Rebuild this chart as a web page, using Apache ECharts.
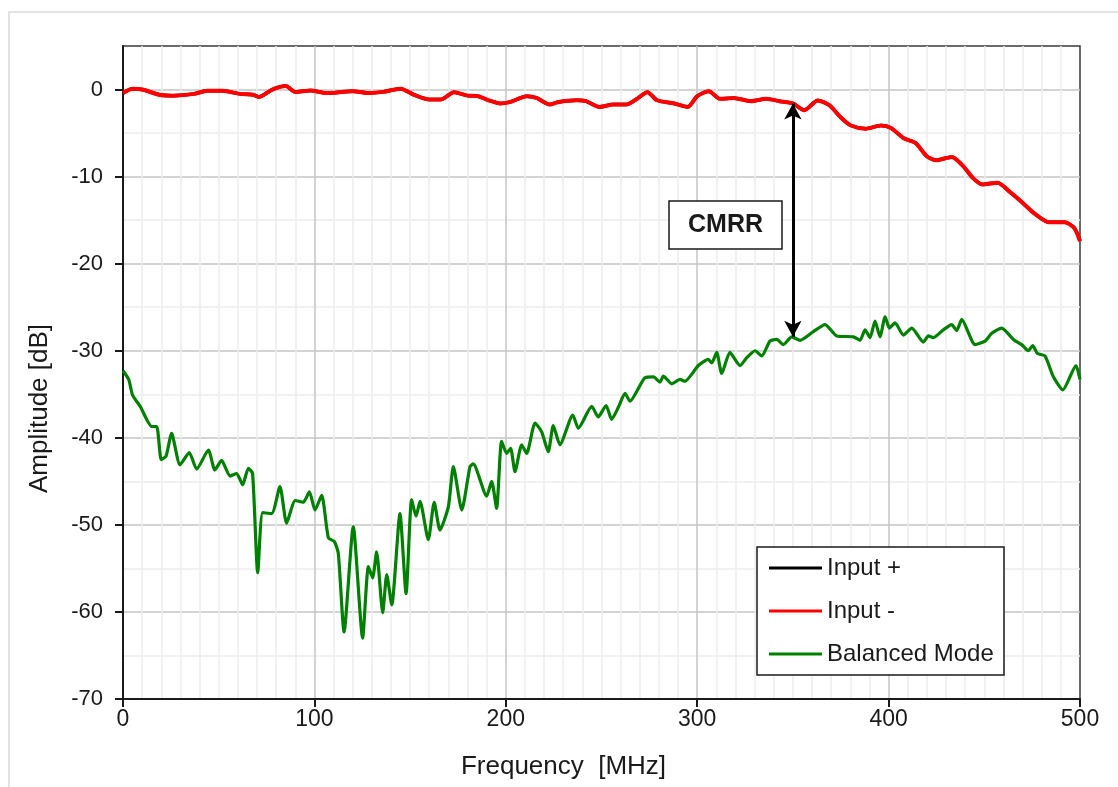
<!DOCTYPE html>
<html>
<head>
<meta charset="utf-8">
<title>Balanced mode response</title>
<script src="https://cdn.jsdelivr.net/npm/echarts@6/dist/echarts.min.js"></script>
<style>
  html, body { margin: 0; padding: 0; background: #ffffff; }
  #chart { width: 1118px; height: 787px; }
</style>
</head>
<body>
<div id="chart"></div>
<script>
// Frequency sweep of the single-ended inputs (MHz) and their level (dB)
const freqInput = [0, 5, 10, 19, 26, 37, 44, 52, 61, 68, 71, 78, 85, 90, 98, 106, 120, 129, 136, 145,
  152, 160, 166, 173, 180, 185, 192, 197, 202, 211, 216, 223, 227, 237, 242, 249, 256, 263, 268, 274,
  279, 288, 295, 300, 306, 312, 319, 328, 336, 343, 350, 356, 363, 369, 375, 380, 388, 396, 401, 408,
  414, 420, 425, 433, 439, 444, 449, 457, 463, 470, 476, 484, 492, 497, 500];
const inputMinus = [-0.4, 0.1, 0.0, -0.6, -0.7, -0.5, -0.15, -0.15, -0.5, -0.6, -0.85, 0.0, 0.4, -0.27, -0.1, -0.4, -0.2, -0.4, -0.27, 0.1,
  -0.6, -1.15, -1.15, -0.3, -0.7, -0.75, -1.3, -1.6, -1.45, -0.77, -0.96, -1.72, -1.45, -1.23, -1.34, -2.0, -1.72, -1.72, -1.15, -0.3,
  -1.23, -1.6, -2.0, -0.77, -0.19, -1.07, -0.96, -1.34, -1.07, -1.34, -1.6, -2.37, -1.25, -1.8, -3.2, -4.1, -4.5, -4.14, -4.4, -5.6,
  -6.13, -7.66, -8.12, -7.74, -8.8, -10.15, -10.9, -10.7, -11.7, -13.0, -14.2, -15.25, -15.25, -15.9, -17.4];
// Input + follows Input - over the whole band (the two traces overlap)
const inputPlus = inputMinus;

// Balanced (differential) mode response
const freqBalanced = [0, 3, 5, 9, 15, 17.6, 20, 22.5, 25.4, 29.8, 34.6, 38.5, 44.6, 48, 51.5, 56, 59.4, 62.5, 65.5, 67.7,
  70.4, 73, 77.7, 82, 85.5, 90, 94.2, 97.4, 100.3, 103.8, 107.3, 110.4, 112.5, 115.5, 120.3, 125.2, 128.2, 130.4, 132.5, 135.7,
  137.8, 140.4, 144.7, 147.9, 150.8, 153.1, 155.2, 159.5, 162.6, 165.6, 170, 172.6, 177, 181.3, 183, 190, 192.6, 195.2, 197.8, 200.4,
  202.5, 204.8, 208.3, 210.9, 215.3, 218.7, 222.2, 224.8, 228.3, 235, 237.9, 244.9, 248.3, 252.4, 255.3, 258.8, 262.3, 264.9, 272.7, 277.1,
  280.6, 282.3, 286.7, 291, 293.6, 300.6, 305.8, 307.6, 310.2, 312.8, 317.1, 322.4, 325.9, 330.2, 333.7, 338, 341.5, 345, 349.4, 353.7,
  360.7, 366.8, 372.9, 381.6, 385.1, 387.7, 390.3, 392.9, 395.5, 398.2, 400.4, 403.4, 407.7, 412.1, 418.2, 420.8, 423.4, 428.6, 433, 435.6,
  438.2, 445.2, 450.4, 453.9, 459.1, 465.2, 469.5, 473, 475.3, 477.7, 481.7, 486.1, 491, 497.9, 500];
const balancedMode = [-32.3, -33.3, -35.1, -36.4, -38.7, -38.7, -42.5, -42.1, -39.5, -43.1, -41.7, -43.6, -41.4, -43.7, -42.6, -44.4, -44.1, -45.4, -43.5, -44.1,
  -55.5, -48.6, -48.7, -45.6, -49.8, -47.2, -47.4, -46.2, -48.3, -46.6, -51.5, -51.9, -53.3, -62.3, -50.2, -63.0, -54.8, -56.1, -53.1, -60.1,
  -55.7, -59.2, -48.7, -57.9, -47.1, -49.0, -47.3, -51.7, -47.4, -50.6, -47.9, -43.3, -48.3, -43.3, -43.0, -46.7, -45.0, -48.1, -40.4, -41.8,
  -41.2, -43.9, -40.8, -41.8, -38.3, -39.3, -41.6, -38.6, -40.8, -37.4, -38.9, -36.4, -37.6, -36.3, -37.9, -36.5, -34.9, -35.8, -33.1, -33.0,
  -33.6, -32.9, -33.8, -33.3, -33.5, -31.7, -31.0, -31.4, -30.2, -32.6, -30.2, -31.7, -30.8, -30.0, -30.6, -28.9, -28.7, -29.3, -28.4, -28.8,
  -27.8, -27.0, -28.3, -28.4, -28.8, -27.6, -28.5, -26.6, -28.4, -26.1, -27.4, -26.8, -28.2, -27.4, -29.0, -28.3, -28.5, -27.6, -27.0, -27.7,
  -26.4, -29.3, -28.9, -28.0, -27.4, -28.7, -29.3, -30.0, -29.4, -30.3, -30.6, -33.0, -34.5, -31.7, -33.3];

const xTicks = [0, 100, 200, 300, 400, 500];
const yTicks = [-70, -60, -50, -40, -30, -20, -10, 0];
const seriesNames = ['Input +', 'Input -', 'Balanced Mode'];
const cmrrFreq = 350;
const cmrrLabel = 'CMRR';

function zip(xs, ys) { return xs.map((x, i) => [x, ys[i]]); }
function nearest(xs, ys, f) {
  let best = 0;
  xs.forEach((x, i) => { if (Math.abs(x - f) < Math.abs(xs[best] - f)) best = i; });
  return [xs[best], ys[best]];
}
const cmrrTop = nearest(freqInput, inputMinus, cmrrFreq);
const cmrrBottom = nearest(freqBalanced, balancedMode, cmrrFreq);

const FONT = "'Liberation Sans', Arial, sans-serif";
const TXT = '#1a1a1a';

const chart = echarts.init(document.getElementById('chart'), null, { renderer: 'canvas' });

chart.setOption({
  animation: false,
  backgroundColor: '#ffffff',
  textStyle: { fontFamily: FONT },
  grid: {
    left: 123, right: 38, top: 46, bottom: 88,
    show: true, borderColor: '#3a3a3a', borderWidth: 1.5, backgroundColor: 'transparent'
  },
  xAxis: {
    type: 'value', min: 0, max: 500, interval: 100,
    name: 'Frequency  [MHz]', nameLocation: 'middle', nameGap: 55,
    nameTextStyle: { fontSize: 26, color: TXT, fontFamily: FONT, padding: [0, 76, 0, 0] },
    axisLine: { show: true, onZero: false, lineStyle: { color: '#1a1a1a', width: 2 } },
    axisTick: { show: true, inside: false, length: 8, lineStyle: { color: '#1a1a1a', width: 2 }, customValues: xTicks },
    axisLabel: { fontSize: 23, color: TXT, margin: 9, fontFamily: FONT, customValues: xTicks },
    splitLine: { show: true, showMinLine: false, showMaxLine: false, lineStyle: { color: '#c4c4c4', width: 1.5 } },
    minorTick: { show: false, splitNumber: 10 },
    minorSplitLine: { show: true, lineStyle: { color: '#ededed', width: 1.5 } }
  },
  yAxis: [
    {
      type: 'value', min: -70, max: 5, interval: 10,
      name: 'Amplitude [dB]', nameLocation: 'middle', nameGap: 70, nameRotate: 90,
      nameTextStyle: { fontSize: 26, color: TXT, fontFamily: FONT, padding: [0, 72, 0, 0] },
      axisLine: { show: true, onZero: false, lineStyle: { color: '#1a1a1a', width: 2 } },
      axisTick: { show: true, length: 8, lineStyle: { color: '#1a1a1a', width: 2 }, customValues: yTicks },
      axisLabel: { fontSize: 22, color: TXT, margin: 20, fontFamily: FONT, customValues: yTicks },
      splitLine: { show: false }
    },
    {
      // grid lines every 5 dB: darker at the labelled decades, lighter in between
      type: 'value', min: -70, max: 5, interval: 5, position: 'left',
      axisLine: { show: false }, axisTick: { show: false }, axisLabel: { show: false },
      splitLine: { show: true, showMinLine: false, showMaxLine: false, lineStyle: { color: ['#ededed', '#c4c4c4'], width: 1.5 } }
    }
  ],
  legend: {
    orient: 'vertical', left: 769, top: 556, padding: 0,
    data: seriesNames,
    icon: 'rect', itemWidth: 53, itemHeight: 3, itemGap: 19, itemTextGap: 5,
    textStyle: { fontSize: 24, color: TXT, fontFamily: FONT, lineHeight: 24 },
    z: 6
  },
  series: [
    {
      name: seriesNames[0], type: 'line', yAxisIndex: 0, data: zip(freqInput, inputPlus),
      symbol: 'none', smooth: 0.25, color: '#000000', lineStyle: { width: 3.5 }, z: 2
    },
    {
      name: seriesNames[1], type: 'line', yAxisIndex: 0, data: zip(freqInput, inputMinus),
      symbol: 'none', smooth: 0.25, color: '#ff0000', lineStyle: { width: 4 }, z: 3
    },
    {
      name: seriesNames[2], type: 'line', yAxisIndex: 0, data: zip(freqBalanced, balancedMode),
      symbol: 'none', smooth: 0.2, color: '#008000', lineStyle: { width: 3.2 }, z: 3,
      markLine: {
        silent: true, animation: false,
        symbol: ['arrow', 'arrow'], symbolSize: [13, 16],
        label: { show: false },
        lineStyle: { color: '#000000', width: 3, type: 'solid' },
        data: [[{ coord: cmrrTop }, { coord: [cmrrTop[0], cmrrBottom[1]] }]],
        z: 5
      }
    }
  ],
  graphic: [
    {
      type: 'rect', z: -10, silent: true,
      shape: { x: 9, y: 12, width: 1200, height: 900 },
      style: { fill: 'none', stroke: '#d9d9d9', lineWidth: 1.5 }
    },
    {
      type: 'rect', z: 3, silent: true,
      shape: { x: 757, y: 547, width: 247, height: 128 },
      style: { fill: '#ffffff', stroke: '#1a1a1a', lineWidth: 1.5 }
    },
    {
      type: 'rect', z: 6, silent: true,
      shape: { x: 669, y: 201, width: 113, height: 48 },
      style: { fill: '#ffffff', stroke: '#1a1a1a', lineWidth: 1.5 }
    },
    {
      type: 'text', z: 7, silent: true, x: 725.5, y: 225,
      style: { text: cmrrLabel, fontSize: 25, fontWeight: 'bold', fontFamily: FONT, fill: TXT, align: 'center', verticalAlign: 'middle' }
    }
  ]
});
</script>
</body>
</html>
